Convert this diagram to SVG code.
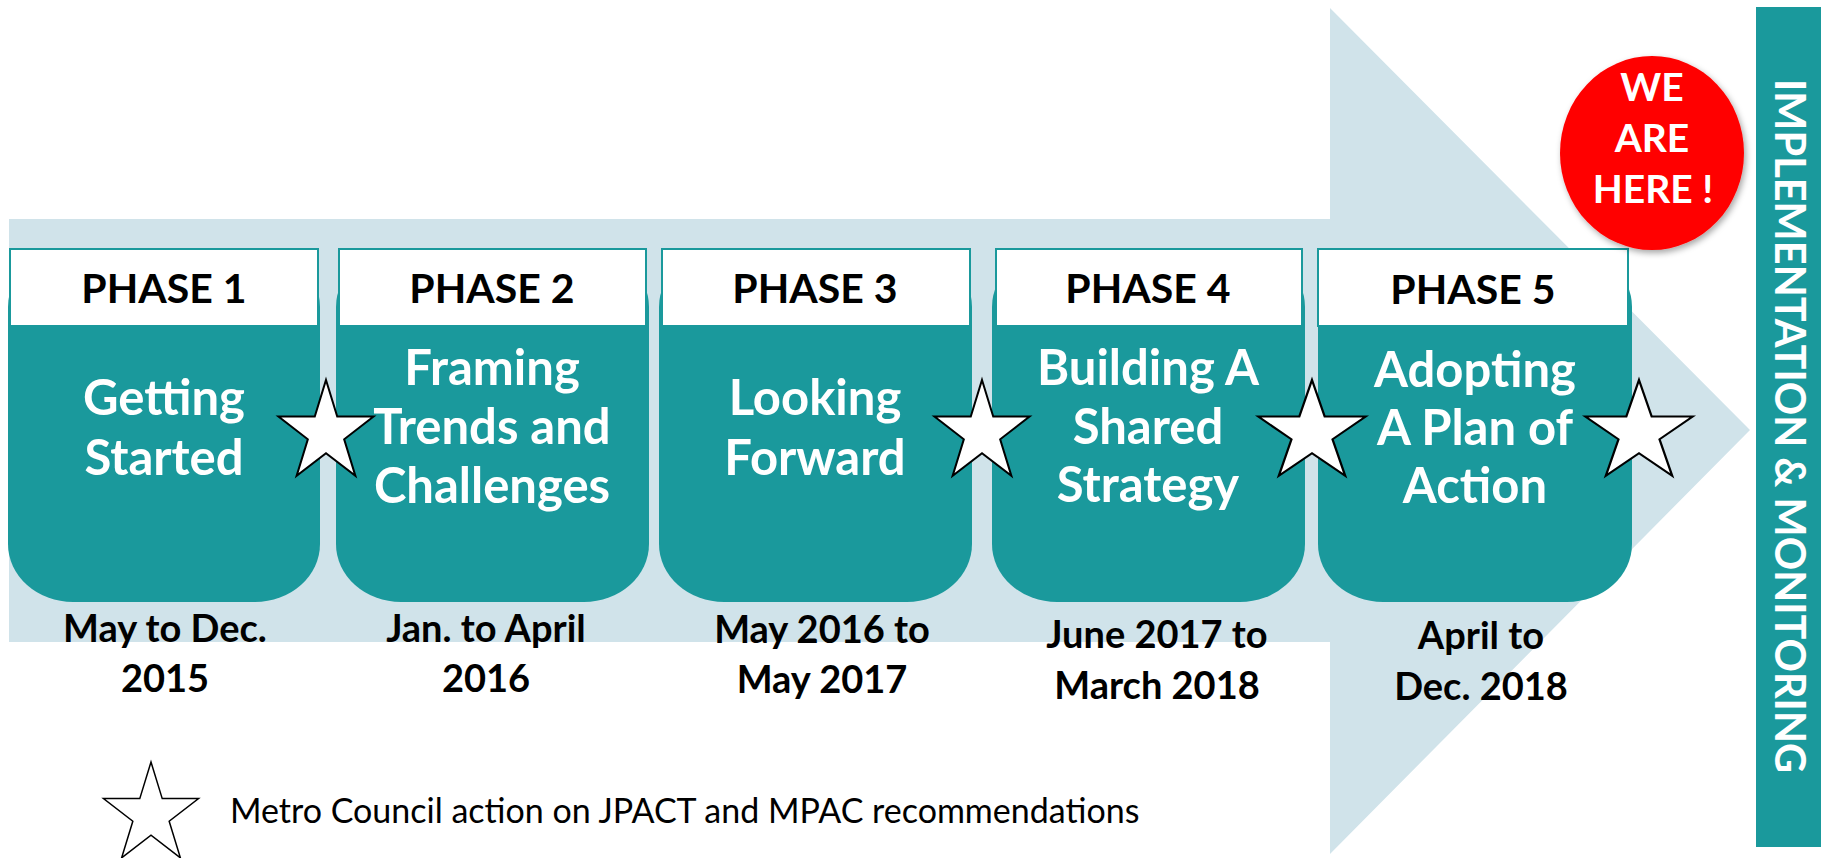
<svg xmlns="http://www.w3.org/2000/svg" xmlns:xlink="http://www.w3.org/1999/xlink" width="1821" height="858" viewBox="0 0 1821 858">
<style>
.bg{fill:#d0e3ea}
.body{fill:#1a999c}
.hdr{fill:#ffffff;stroke:#1a999c;stroke-width:2}
.ph{font-family:Lato,"Liberation Sans",sans-serif;font-weight:bold;font-size:41px;fill:#000;text-anchor:middle}
.bt{font-family:Lato,"Liberation Sans",sans-serif;font-weight:bold;font-size:49px;fill:#fff;text-anchor:middle}
.dt{font-family:Lato,"Liberation Sans",sans-serif;font-weight:bold;font-size:38px;fill:#000;text-anchor:middle}
.star{fill:#fff;stroke:#000;stroke-width:2;stroke-linejoin:miter}
.here{font-family:Lato,"Liberation Sans",sans-serif;font-weight:bold;font-size:39px;fill:#fff;text-anchor:middle}
.vt{font-family:Lato,"Liberation Sans",sans-serif;font-weight:bold;font-size:41.5px;fill:#fff;text-anchor:middle}
.lg{font-family:Lato,"Liberation Sans",sans-serif;font-size:34px;fill:#000}
</style>
<defs>
<path id="starShape" d="M0,-53 L11.23,-16.38 L47.55,-16.38 L18.17,6.25 L29.39,42.88 L0,20.25 L-29.39,42.88 L-18.17,6.25 L-47.55,-16.38 L-11.23,-16.38 Z"/>
<filter id="shadow" x="-20%" y="-20%" width="150%" height="150%">
<feDropShadow dx="2" dy="3" stdDeviation="3" flood-color="#000" flood-opacity="0.35"/>
</filter>
</defs>

<g id="timeline-arrow">
<path class="bg" d="M9,219 H1330 V8 L1750,430 L1330,854 V642 H9 Z"/>
</g>

<g id="phase1">
<rect class="body" x="8" y="249" width="312" height="353" rx="65" ry="58"/>
<rect class="hdr" x="10" y="249" width="308" height="77"/>
<text class="ph" x="164" y="303">PHASE 1</text>
<text class="bt" x="164" y="415">Getting</text>
<text class="bt" x="164" y="475">Started</text>
<text class="dt" x="165" y="642">May to Dec.</text>
<text class="dt" x="165" y="692">2015</text>
</g>

<g id="phase2">
<rect class="body" x="336" y="249" width="313" height="353" rx="65" ry="58"/>
<rect class="hdr" x="339" y="249" width="307" height="77"/>
<text class="ph" x="492" y="303">PHASE 2</text>
<text class="bt" x="492" y="385">Framing</text>
<text class="bt" x="492" y="444">Trends and</text>
<text class="bt" x="492" y="503">Challenges</text>
<text class="dt" x="486" y="642">Jan. to April</text>
<text class="dt" x="486" y="692">2016</text>
</g>

<g id="phase3">
<rect class="body" x="659" y="249" width="313" height="353" rx="65" ry="58"/>
<rect class="hdr" x="662" y="249" width="308" height="77"/>
<text class="ph" x="815" y="303">PHASE 3</text>
<text class="bt" x="815" y="415">Looking</text>
<text class="bt" x="815" y="475">Forward</text>
<text class="dt" x="822" y="643">May 2016 to</text>
<text class="dt" x="822" y="693">May 2017</text>
</g>

<g id="phase4">
<rect class="body" x="992" y="249" width="313" height="353" rx="65" ry="58"/>
<rect class="hdr" x="996" y="249" width="306" height="77"/>
<text class="ph" x="1148" y="303">PHASE 4</text>
<text class="bt" x="1148" y="385">Building A</text>
<text class="bt" x="1148" y="444">Shared</text>
<text class="bt" x="1148" y="502">Strategy</text>
<text class="dt" x="1157" y="648">June 2017 to</text>
<text class="dt" x="1157" y="699">March 2018</text>
</g>

<g id="phase5">
<rect class="body" x="1318" y="249" width="314" height="353" rx="65" ry="58"/>
<rect class="hdr" x="1318" y="249" width="310" height="77"/>
<text class="ph" x="1473" y="304">PHASE 5</text>
<text class="bt" x="1475" y="387">Adopting</text>
<text class="bt" x="1475" y="445">A Plan of</text>
<text class="bt" x="1475" y="503">Action</text>
<text class="dt" x="1481" y="649">April to</text>
<text class="dt" x="1481" y="700">Dec. 2018</text>
</g>

<g id="stars">
<use xlink:href="#starShape" class="star" transform="translate(326,433)"/>
<use xlink:href="#starShape" class="star" transform="translate(982,433)"/>
<use xlink:href="#starShape" class="star" transform="translate(1312,433) scale(1.13,1)"/>
<use xlink:href="#starShape" class="star" transform="translate(1639,433) scale(1.13,1)"/>
</g>

<g id="we-are-here">
<ellipse cx="1652" cy="153" rx="92" ry="97" fill="#ff0000" filter="url(#shadow)"/>
<text class="here" x="1652" y="101">WE</text>
<text class="here" x="1652" y="152">ARE</text>
<text class="here" x="1653" y="203">HERE !</text>
</g>

<g id="implementation">
<rect x="1756" y="7" width="65" height="840" fill="#1a999c"/>
<text class="vt" transform="translate(1775,426) rotate(90)">IMPLEMENTATION &amp; MONITORING</text>
</g>

<g id="legend">
<use xlink:href="#starShape" class="star" style="stroke-width:1.5" transform="translate(151,815)"/>
<text class="lg" x="230" y="823">Metro Council action on JPACT and MPAC recommendations</text>
</g>
</svg>
